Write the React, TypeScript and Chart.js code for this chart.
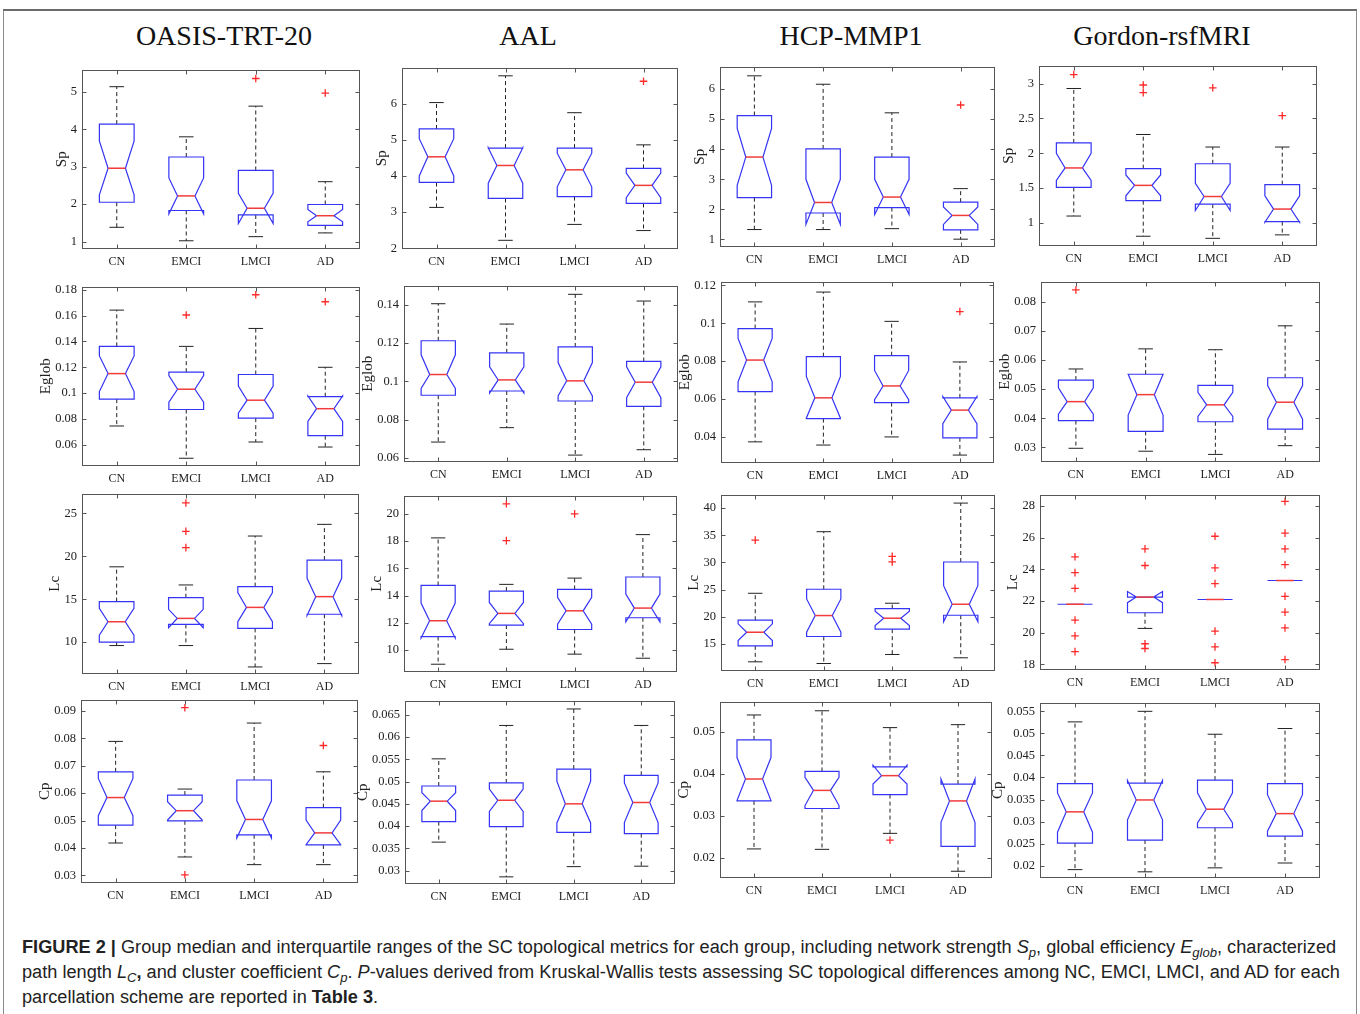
import React, { useEffect, useLayoutEffect, useRef } from "react";
import { Chart, registerables } from "chart.js";
Chart.register(...registerables);

// ---------- DATA ----------
const GROUPS = ["CN", "EMCI", "LMCI", "AD"];
const COLUMN_TITLES = ["OASIS-TRT-20", "AAL", "HCP-MMP1", "Gordon-rsfMRI"];
const METRICS = ["Sp", "Eglob", "Lc", "Cp"];

// each group row: [whiskerLow, q1, notchLow, median, notchHigh, q3, whiskerHigh]
const sp_oasis = [
  [1.38, 2.05, 2.25, 2.96, 3.69, 4.14, 5.14],
  [1.02, 1.83, 1.74, 2.22, 2.7, 3.26, 3.8],
  [1.13, 1.71, 1.48, 1.89, 2.29, 2.9, 4.62],
  [1.23, 1.43, 1.53, 1.69, 1.86, 1.99, 2.6],
];
const sp_oasis_out = [[2, 5.36], [3, 4.97]];
const sp_oasis_ticks = [1, 2, 3, 4, 5];

const sp_aal = [
  [3.13, 3.82, 4.0, 4.53, 5.03, 5.3, 6.03],
  [2.22, 3.38, 3.8, 4.29, 4.78, 4.77, 6.77],
  [2.66, 3.43, 3.7, 4.17, 4.63, 4.77, 5.75],
  [2.49, 3.24, 3.4, 3.74, 4.08, 4.21, 4.86],
];
const sp_aal_out = [[3, 6.62]];
const sp_aal_ticks = [2, 3, 4, 5, 6];

const sp_hcp = [
  [1.33, 2.39, 2.8, 3.74, 4.69, 5.12, 6.44],
  [1.33, 1.88, 1.5, 2.23, 3.0, 4.01, 6.16],
  [1.36, 2.06, 1.83, 2.41, 3.0, 3.74, 5.21],
  [1.01, 1.32, 1.5, 1.8, 2.08, 2.24, 2.69],
];
const sp_hcp_out = [[3, 5.47]];
const sp_hcp_ticks = [1, 2, 3, 4, 5, 6];

const sp_gordon = [
  [1.1, 1.51, 1.61, 1.79, 2.0, 2.15, 2.93],
  [0.81, 1.32, 1.39, 1.54, 1.69, 1.78, 2.27],
  [0.78, 1.27, 1.18, 1.38, 1.57, 1.85, 2.09],
  [0.83, 1.02, 1.01, 1.2, 1.39, 1.55, 2.09],
];
const sp_gordon_out = [[0, 3.13], [1, 2.98], [1, 2.87], [2, 2.94], [3, 2.54]];
const sp_gordon_ticks = [1, 1.5, 2, 2.5, 3];

const eglob_oasis = [
  [0.0745, 0.0953, 0.1012, 0.1151, 0.1288, 0.1362, 0.1643],
  [0.0495, 0.0873, 0.093, 0.103, 0.1136, 0.1162, 0.1362],
  [0.0621, 0.0806, 0.0845, 0.0945, 0.1054, 0.1144, 0.1501],
  [0.0582, 0.067, 0.0781, 0.0879, 0.0978, 0.0972, 0.12],
];
const eglob_oasis_out = [[1, 0.1605], [2, 0.1762], [3, 0.1708]];
const eglob_oasis_ticks = [0.06, 0.08, 0.1, 0.12, 0.14, 0.16, 0.18];

const eglob_aal = [
  [0.0684, 0.0928, 0.0964, 0.1036, 0.1139, 0.1212, 0.1405],
  [0.0759, 0.095, 0.094, 0.1008, 0.1076, 0.1149, 0.1299],
  [0.0616, 0.0898, 0.0924, 0.1003, 0.1098, 0.118, 0.1454],
  [0.0644, 0.087, 0.0915, 0.0996, 0.1076, 0.1104, 0.1419],
];
const eglob_aal_out: number[][] = [];
const eglob_aal_ticks = [0.06, 0.08, 0.1, 0.12, 0.14];

const eglob_hcp = [
  [0.0372, 0.0638, 0.069, 0.0805, 0.092, 0.0972, 0.1113],
  [0.0355, 0.0495, 0.0497, 0.0605, 0.0718, 0.0823, 0.1165],
  [0.0398, 0.058, 0.0595, 0.0668, 0.075, 0.0828, 0.101],
  [0.0302, 0.0393, 0.0468, 0.054, 0.0612, 0.0605, 0.0795],
];
const eglob_hcp_out = [[3, 0.1062]];
const eglob_hcp_ticks = [0.04, 0.06, 0.08, 0.1, 0.12];

const eglob_gordon = [
  [0.0297, 0.0392, 0.0414, 0.0457, 0.0504, 0.0531, 0.0569],
  [0.0287, 0.0355, 0.0411, 0.0481, 0.0551, 0.0551, 0.0638],
  [0.0276, 0.0388, 0.0406, 0.0446, 0.0489, 0.0513, 0.0635],
  [0.0306, 0.0363, 0.0397, 0.0455, 0.0512, 0.0539, 0.0717],
];
const eglob_gordon_out = [[0, 0.084]];
const eglob_gordon_ticks = [0.03, 0.04, 0.05, 0.06, 0.07, 0.08];

const lc_oasis = [
  [9.61, 10.0, 10.82, 12.38, 13.94, 14.72, 18.77],
  [9.61, 12.07, 11.68, 12.77, 13.82, 15.18, 16.66],
  [7.12, 11.6, 12.38, 14.05, 15.77, 16.47, 22.35],
  [7.51, 13.25, 13.1, 15.3, 17.44, 19.55, 23.71],
];
const lc_oasis_out = [[1, 26.2], [1, 22.9], [1, 21.0]];
const lc_oasis_ticks = [10, 15, 20, 25];

const lc_aal = [
  [8.97, 11.0, 10.9, 12.16, 13.46, 14.75, 18.24],
  [10.07, 11.84, 11.95, 12.7, 13.5, 14.34, 14.83],
  [9.71, 11.52, 11.91, 12.89, 13.87, 14.46, 15.29],
  [9.41, 12.38, 12.08, 13.09, 14.12, 15.37, 18.48],
];
const lc_aal_out = [[1, 20.74], [1, 18.04], [2, 20.0]];
const lc_aal_ticks = [10, 12, 14, 16, 18, 20];

const lc_hcp = [
  [11.69, 14.63, 15.61, 17.14, 18.68, 19.35, 24.31],
  [11.38, 16.35, 17.14, 20.21, 23.27, 25.05, 35.65],
  [13.04, 17.7, 18.37, 19.72, 21.0, 21.5, 22.48],
  [12.43, 20.27, 19.1, 22.29, 25.72, 30.07, 40.92],
];
const lc_hcp_out = [[0, 34.1], [2, 31.1], [2, 30.1]];
const lc_hcp_ticks = [15, 20, 25, 30, 35, 40];

const lc_gordon = [
  [21.8, 21.8, 21.8, 21.8, 21.8, 21.8, 21.8],
  [20.27, 21.26, 21.9, 22.25, 22.6, 22.25, 22.25],
  [22.1, 22.1, 22.1, 22.1, 22.1, 22.1, 22.1],
  [23.3, 23.3, 23.3, 23.3, 23.3, 23.3, 23.3],
];
const lc_gordon_out = [
  [0, 24.8], [0, 23.8], [0, 22.8], [0, 20.8], [0, 19.8], [0, 18.8],
  [1, 25.3], [1, 24.25], [1, 19.3], [1, 19.0],
  [2, 26.1], [2, 24.1], [2, 23.1], [2, 20.1], [2, 19.1], [2, 18.1],
  [3, 28.3], [3, 26.3], [3, 25.3], [3, 24.3], [3, 22.3], [3, 21.3], [3, 20.3], [3, 18.3],
];
const lc_gordon_ticks = [18, 20, 22, 24, 26, 28];

const cp_oasis = [
  [0.0418, 0.0483, 0.0518, 0.0584, 0.0654, 0.0678, 0.0789],
  [0.0367, 0.0499, 0.0502, 0.0536, 0.0569, 0.0593, 0.0615],
  [0.0339, 0.0448, 0.0436, 0.0504, 0.0572, 0.0648, 0.0856],
  [0.0339, 0.0411, 0.0412, 0.0455, 0.0502, 0.0547, 0.0678],
];
const cp_oasis_out = [[1, 0.0912], [1, 0.0302], [3, 0.0774]];
const cp_oasis_ticks = [0.03, 0.04, 0.05, 0.06, 0.07, 0.08, 0.09];

const cp_aal = [
  [0.0364, 0.041, 0.0435, 0.0456, 0.0475, 0.049, 0.0551],
  [0.0286, 0.0399, 0.0433, 0.0458, 0.0483, 0.0497, 0.0626],
  [0.0309, 0.0386, 0.0407, 0.045, 0.0501, 0.0528, 0.0663],
  [0.031, 0.0383, 0.0408, 0.0453, 0.0497, 0.0514, 0.0626],
];
const cp_aal_out: number[][] = [];
const cp_aal_ticks = [0.03, 0.035, 0.04, 0.045, 0.05, 0.055, 0.06, 0.065];

const cp_hcp = [
  [0.0222, 0.0336, 0.0337, 0.0388, 0.0439, 0.0481, 0.054],
  [0.0221, 0.0318, 0.0325, 0.0361, 0.0392, 0.0406, 0.055],
  [0.0259, 0.0351, 0.0376, 0.0396, 0.0421, 0.0417, 0.051],
  [0.0169, 0.0228, 0.0285, 0.0336, 0.0388, 0.0376, 0.0517],
];
const cp_hcp_out = [[2, 0.0243]];
const cp_hcp_ticks = [0.02, 0.03, 0.04, 0.05];

const cp_gordon = [
  [0.0191, 0.0251, 0.0276, 0.0322, 0.0365, 0.0386, 0.0526],
  [0.0186, 0.0258, 0.0304, 0.0349, 0.0393, 0.0387, 0.055],
  [0.0195, 0.0286, 0.0297, 0.0328, 0.0365, 0.0394, 0.0498],
  [0.0206, 0.0267, 0.0278, 0.0318, 0.0361, 0.0386, 0.0511],
];
const cp_gordon_out: number[][] = [];
const cp_gordon_ticks = [0.02, 0.025, 0.03, 0.035, 0.04, 0.045, 0.05, 0.055];

// ---------- LAYOUT ----------
type Panel = {
  stats: number[][];
  out: number[][];
  ticks: number[];
  min: number;
  max: number;
  label: string;
  frame: [number, number, number, number];
};

const PANELS: Panel[] = [
  { stats: sp_oasis, out: sp_oasis_out, ticks: sp_oasis_ticks, min: 0.8, max: 5.6, label: METRICS[0], frame: [82, 69, 360, 249] },
  { stats: sp_aal, out: sp_aal_out, ticks: sp_aal_ticks, min: 1.98, max: 7.0, label: METRICS[0], frame: [402, 67, 678, 249] },
  { stats: sp_hcp, out: sp_hcp_out, ticks: sp_hcp_ticks, min: 0.75, max: 6.75, label: METRICS[0], frame: [720, 66, 995, 247] },
  { stats: sp_gordon, out: sp_gordon_out, ticks: sp_gordon_ticks, min: 0.67, max: 3.26, label: METRICS[0], frame: [1039, 65, 1317, 246] },

  { stats: eglob_oasis, out: eglob_oasis_out, ticks: eglob_oasis_ticks, min: 0.0435, max: 0.1826, label: METRICS[1], frame: [82, 286, 360, 466] },
  { stats: eglob_aal, out: eglob_aal_out, ticks: eglob_aal_ticks, min: 0.058, max: 0.15, label: METRICS[1], frame: [404, 285, 678, 462] },
  { stats: eglob_hcp, out: eglob_hcp_out, ticks: eglob_hcp_ticks, min: 0.026, max: 0.1221, label: METRICS[1], frame: [721, 281, 994, 463] },
  { stats: eglob_gordon, out: eglob_gordon_out, ticks: eglob_gordon_ticks, min: 0.025, max: 0.0869, label: METRICS[1], frame: [1041, 281, 1320, 462] },

  { stats: lc_oasis, out: lc_oasis_out, ticks: lc_oasis_ticks, min: 6.3, max: 27.3, label: METRICS[2], frame: [82, 493, 359, 674] },
  { stats: lc_aal, out: lc_aal_out, ticks: lc_aal_ticks, min: 8.4, max: 21.35, label: METRICS[2], frame: [404, 495, 677, 672] },
  { stats: lc_hcp, out: lc_hcp_out, ticks: lc_hcp_ticks, min: 10, max: 42.5, label: METRICS[2], frame: [721, 494, 995, 671] },
  { stats: lc_gordon, out: lc_gordon_out, ticks: lc_gordon_ticks, min: 17.64, max: 28.74, label: METRICS[2], frame: [1040, 494, 1320, 670] },

  { stats: cp_oasis, out: cp_oasis_out, ticks: cp_oasis_ticks, min: 0.0272, max: 0.0942, label: METRICS[3], frame: [81, 699, 358, 883] },
  { stats: cp_aal, out: cp_aal_out, ticks: cp_aal_ticks, min: 0.027, max: 0.0682, label: METRICS[3], frame: [405, 700, 675, 884] },
  { stats: cp_hcp, out: cp_hcp_out, ticks: cp_hcp_ticks, min: 0.0153, max: 0.0572, label: METRICS[3], frame: [720, 701, 992, 878] },
  { stats: cp_gordon, out: cp_gordon_out, ticks: cp_gordon_ticks, min: 0.0172, max: 0.057, label: METRICS[3], frame: [1040, 702, 1320, 878] },
];

const TITLE_X = [224, 528, 851, 1162];

const PAD_L = 70;
const PAD_T = 12;
const PAD_R = 10;
const PAD_B = 30;
const SERIF = '"Liberation Serif", "Times New Roman", serif';
const TICK_FONT = `12.5px ${SERIF}`;
const LABEL_FONT = `15px ${SERIF}`;
const fmt = (v: number) => String(parseFloat(Number(v).toFixed(4)));

function makeBoxPlugin(p: Panel) {
  return {
    id: "notchedBoxes",
    beforeDatasetsDraw(chart: any) {
      const { ctx, scales } = chart;
      const x = scales.x;
      const y = scales.y;
      ctx.save();
      p.stats.forEach((s, i) => {
        const xc = x.getPixelForValue(i + 1);
        const hw = x.getPixelForValue(i + 1.25) - xc;
        const nw = hw * 0.5;
        const cw = hw * 0.42;
        const [lo, q1, nlo, med, nhi, q3, hi] = s.map((v) => y.getPixelForValue(v));
        // whiskers
        ctx.strokeStyle = "#222";
        ctx.lineWidth = 1;
        ctx.setLineDash([4, 3]);
        ctx.beginPath();
        if (s[6] !== s[5]) {
          ctx.moveTo(xc, q3);
          ctx.lineTo(xc, hi);
        }
        if (s[0] !== s[1]) {
          ctx.moveTo(xc, q1);
          ctx.lineTo(xc, lo);
        }
        ctx.stroke();
        ctx.setLineDash([]);
        ctx.beginPath();
        if (s[6] !== s[5]) {
          ctx.moveTo(xc - cw, hi);
          ctx.lineTo(xc + cw, hi);
        }
        if (s[0] !== s[1]) {
          ctx.moveTo(xc - cw, lo);
          ctx.lineTo(xc + cw, lo);
        }
        ctx.stroke();
        // notched box
        ctx.strokeStyle = "#3434f4";
        ctx.lineWidth = 1.2;
        ctx.beginPath();
        ctx.moveTo(xc - hw, q1);
        ctx.lineTo(xc - hw, nlo);
        ctx.lineTo(xc - nw, med);
        ctx.lineTo(xc - hw, nhi);
        ctx.lineTo(xc - hw, q3);
        ctx.lineTo(xc + hw, q3);
        ctx.lineTo(xc + hw, nhi);
        ctx.lineTo(xc + nw, med);
        ctx.lineTo(xc + hw, nlo);
        ctx.lineTo(xc + hw, q1);
        ctx.closePath();
        ctx.stroke();
        // median
        ctx.strokeStyle = "#f23c3c";
        ctx.lineWidth = 1.5;
        ctx.beginPath();
        ctx.moveTo(xc - nw, med);
        ctx.lineTo(xc + nw, med);
        ctx.stroke();
      });
      ctx.restore();
    },
    afterDraw(chart: any) {
      const { ctx, chartArea: a, scales } = chart;
      const x = scales.x;
      const y = scales.y;
      ctx.save();
      ctx.strokeStyle = "#555";
      ctx.lineWidth = 1;
      const L = Math.round(a.left) + 0.5;
      const R = Math.round(a.right) - 0.5;
      const T = Math.round(a.top) + 0.5;
      const B = Math.round(a.bottom) - 0.5;
      ctx.strokeRect(L, T, R - L, B - T);
      ctx.beginPath();
      p.ticks.forEach((v) => {
        const py = Math.round(y.getPixelForValue(v)) + 0.5;
        ctx.moveTo(L, py);
        ctx.lineTo(L + 4, py);
        ctx.moveTo(R, py);
        ctx.lineTo(R - 4, py);
      });
      GROUPS.forEach((_, i) => {
        const px = Math.round(x.getPixelForValue(i + 1)) + 0.5;
        ctx.moveTo(px, B);
        ctx.lineTo(px, B - 4);
        ctx.moveTo(px, T);
        ctx.lineTo(px, T + 4);
      });
      ctx.stroke();
      // y label
      ctx.font = TICK_FONT;
      let maxW = 0;
      p.ticks.forEach((v) => {
        maxW = Math.max(maxW, ctx.measureText(fmt(v)).width);
      });
      const cx = a.left - 5 - maxW - 9;
      const cy = (a.top + a.bottom) / 2;
      ctx.translate(cx, cy);
      ctx.rotate(-Math.PI / 2);
      ctx.font = LABEL_FONT;
      ctx.fillStyle = "#222";
      ctx.textAlign = "center";
      ctx.textBaseline = "middle";
      ctx.fillText(p.label, 0, 0);
      ctx.restore();
    },
  };
}

function BoxPanel({ p }: { p: Panel }) {
  const ref = useRef<HTMLCanvasElement>(null);
  const [l, t, r, b] = p.frame;
  const w = r - l + PAD_L + PAD_R;
  const h = b - t + PAD_T + PAD_B;
  useEffect(() => {
    const chart = new Chart(ref.current as HTMLCanvasElement, {
      type: "scatter",
      data: {
        datasets: [
          {
            data: p.out.map(([g, v]) => ({ x: g + 1, y: v })),
            pointStyle: "cross",
            pointRadius: 3.8,
            pointBorderColor: "#ff2a2a",
            pointBorderWidth: 1.3,
            borderColor: "#ff2a2a",
            showLine: false,
          } as any,
        ],
      },
      options: {
        responsive: false,
        animation: false,
        events: [],
        layout: { padding: { left: 0, top: PAD_T, right: PAD_R, bottom: 0 } },
        plugins: { legend: { display: false }, tooltip: { enabled: false } },
        scales: {
          x: {
            type: "linear",
            min: 0.5,
            max: 4.5,
            grid: { display: false, drawTicks: false },
            border: { display: false },
            afterBuildTicks: (s: any) => {
              s.ticks = GROUPS.map((_, i) => ({ value: i + 1 }));
            },
            afterFit: (s: any) => {
              s.height = PAD_B;
            },
            ticks: {
              autoSkip: false,
              maxRotation: 0,
              padding: 6,
              color: "#222",
              font: { family: SERIF, size: 12 },
              callback: (v: any) => GROUPS[Math.round(Number(v)) - 1] ?? "",
            },
          },
          y: {
            type: "linear",
            min: p.min,
            max: p.max,
            grid: { display: false, drawTicks: false },
            border: { display: false },
            afterBuildTicks: (s: any) => {
              s.ticks = p.ticks.map((v) => ({ value: v }));
            },
            afterFit: (s: any) => {
              s.width = PAD_L;
            },
            ticks: {
              autoSkip: false,
              padding: 5,
              color: "#222",
              font: { family: SERIF, size: 12.5 },
              callback: (v: any) => fmt(Number(v)),
            },
          },
        },
      } as any,
      plugins: [makeBoxPlugin(p)],
    });
    return () => chart.destroy();
  }, []);
  return (
    <canvas
      ref={ref}
      width={w}
      height={h}
      style={{ position: "absolute", left: l - PAD_L, top: t - PAD_T, width: w, height: h }}
    />
  );
}

function Caption() {
  const wrap = useRef<HTMLDivElement>(null);
  useLayoutEffect(() => {
    const el = wrap.current;
    if (!el) return;
    const lines = Array.from(el.children) as HTMLElement[];
    const natural = lines[0].scrollWidth;
    const scale = 1314 / natural;
    lines.forEach((ln) => {
      ln.style.transform = `scaleX(${scale})`;
    });
  }, []);
  const lineStyle: React.CSSProperties = {
    whiteSpace: "nowrap",
    height: 25,
    lineHeight: "25px",
    transformOrigin: "0 50%",
    display: "block",
    width: "max-content",
  };
  const sub: React.CSSProperties = { fontSize: "0.72em", verticalAlign: "-0.3em", lineHeight: 0, fontStyle: "italic" };
  return (
    <div
      ref={wrap}
      style={{
        position: "absolute",
        left: 22,
        top: 935,
        fontFamily: '"Liberation Sans", Arial, sans-serif',
        fontSize: 18,
        color: "#222",
      }}
    >
      <div style={lineStyle}>
        <b>FIGURE 2 |</b> Group median and interquartile ranges of the SC topological metrics for each group, including network strength{" "}
        <i>S</i>
        <span style={sub}>p</span>, global efficiency <i>E</i>
        <span style={sub}>glob</span>, characterized
      </div>
      <div style={lineStyle}>
        path length <i>L</i>
        <span style={sub}>C</span>
        <b>,</b> and cluster coefficient <i>C</i>
        <span style={sub}>p</span>. <i>P</i>-values derived from Kruskal-Wallis tests assessing SC topological differences among NC, EMCI, LMCI, and AD for each
      </div>
      <div style={lineStyle}>
        parcellation scheme are reported in <b>Table 3</b>.
      </div>
    </div>
  );
}

export default function App() {
  return (
    <div
      style={{
        position: "absolute",
        left: 0,
        top: 0,
        width: 1360,
        height: 1014,
        overflow: "hidden",
        background: "#fff",
      }}
    >
      <div
        style={{
          position: "absolute",
          left: 3,
          top: 9,
          width: 1352,
          height: 1100,
          borderTop: "2px solid #6a6a6a",
          borderLeft: "1px solid #8a8a8a",
          borderRight: "1px solid #8a8a8a",
        }}
      />
      {COLUMN_TITLES.map((tt, i) => (
        <div
          key={tt}
          style={{
            position: "absolute",
            left: TITLE_X[i] - 150,
            width: 300,
            top: 18,
            textAlign: "center",
            fontFamily: SERIF,
            fontSize: 28,
            lineHeight: "36px",
            color: "#111",
          }}
        >
          {tt}
        </div>
      ))}
      {PANELS.map((p, i) => (
        <BoxPanel key={i} p={p} />
      ))}
      <Caption />
    </div>
  );
}
